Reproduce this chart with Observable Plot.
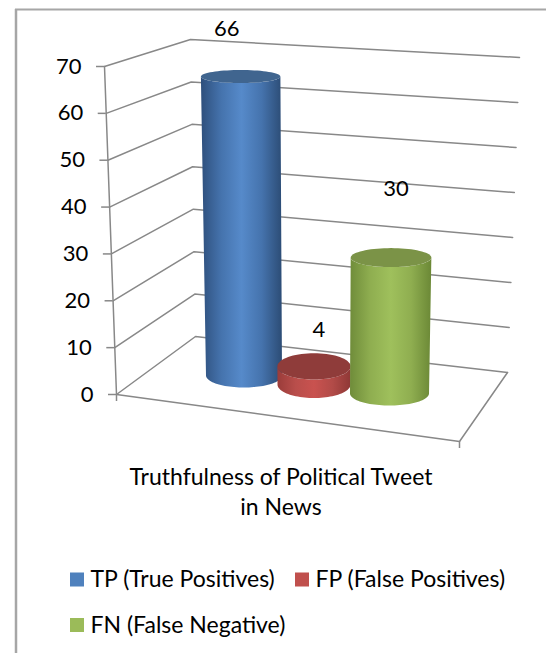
<!DOCTYPE html>
<html>
<head>
<meta charset="utf-8">
<script src="https://cdn.jsdelivr.net/npm/d3@7"></script>
<script src="https://cdn.jsdelivr.net/npm/@observablehq/plot@0.6"></script>
<style>
  html, body { margin: 0; background: #fff; overflow: hidden; }
  svg { display: block; }
</style>
</head>
<body>
<div id="chart"></div>
<script>
// Chart values
const categories = ["TP (True Positives)", "FP (False Positives)", "FN (False Negative)"];
const values = [66, 4, 30];
const tickValues = [0, 10, 20, 30, 40, 50, 60, 70];
const titleLines = ["Truthfulness of Political Tweet", "in News"];

// Series colours: gradient stops across each cylinder and the darker top cap
const shades = [
  ["#2e4f7c", "#4573ad", "#568aca", "#4573ad", "#2c4c75"],
  ["#9a3c3a", "#b94e4b", "#c9524f", "#b24b48", "#8f3836"],
  ["#6f8c3a", "#8fae50", "#9fc05c", "#8fae50", "#6b8836"]
];
const capColors = ["#40658f", "#8f3c3a", "#7b9347"];
const swatchColors = ["#4f81bd", "#c0504d", "#9bbb59"];

// Perspective frame of the 3D box: three vertical edges plus the near floor corner
const edge = (y0, y70, x0, x70) => ({
  x: d3.scaleLinear([0, 70], [x0, x70]),
  y: d3.scaleLinear([0, 70], [y0, y70])
});
const frontLeft = edge(394, 66, 116, 104);
const backLeft = edge(336, 39, 195, 190);
const backRight = edge(372, 57, 507, 519);
const nearCorner = {x: 459, y: 441};

// Cylinder placement on the floor, with perspective growth towards the viewer
const vanishingX = 316;
const placement = [
  {cx: 243.5, cy: 375, rx: 38, ry: 12, labelDx: -14, labelDy: -48},
  {cx: 313.5, cy: 384, rx: 36.5, ry: 13.5, labelDx: 5, labelDy: -36},
  {cx: 389, cy: 393, rx: 39.5, ry: 12, labelDx: 5, labelDy: -69}
];
const unitHeight = 4.53;
const ringAt = (p, v) => {
  const grow = 1 + 0.0007 * v;
  return {
    cx: vanishingX + (p.cx - vanishingX) * grow,
    cy: p.cy - unitHeight * v,
    rx: p.rx * grow,
    ry: p.ry - 0.083 * v
  };
};
const arc = (r, from, to, steps = 48) =>
  d3.range(steps + 1).map((i) => {
    const a = from + (to - from) * i / steps;
    return {x: r.cx + r.rx * Math.cos(a), y: r.cy + r.ry * Math.sin(a)};
  });

const bars = categories.map((name, i) => {
  const base = ringAt(placement[i], 0);
  const top = ringAt(placement[i], values[i]);
  return {
    name, i, value: values[i], top,
    side: [...arc(top, Math.PI, 0), ...arc(base, 0, Math.PI)],
    cap: arc(top, 0, 2 * Math.PI, 72),
    labelX: top.cx + placement[i].labelDx,
    labelY: top.cy + placement[i].labelDy
  };
});

// Wall and floor lines
const gridlines = tickValues.flatMap((v) => [
  {v, x: frontLeft.x(v), y: frontLeft.y(v)},
  {v, x: backLeft.x(v), y: backLeft.y(v)},
  {v, x: backRight.x(v), y: backRight.y(v)}
]);
const floorEdge = [
  {x: frontLeft.x(0), y: frontLeft.y(0)},
  nearCorner,
  {x: backRight.x(0), y: backRight.y(0)}
];
const axisEdge = [0, 70].map((v) => ({x: frontLeft.x(v), y: frontLeft.y(v)}));
const floorTicks = [{x: frontLeft.x(0), y: frontLeft.y(0)}, nearCorner];

// Legend rows
const legend = [
  {i: 0, x: 70, y: 579.5},
  {i: 1, x: 295, y: 579.5},
  {i: 2, x: 70, y: 625}
];

const svgNS = "http://www.w3.org/2000/svg";
const gradients = () => {
  const defs = document.createElementNS(svgNS, "defs");
  shades.forEach((stops, i) => {
    const g = document.createElementNS(svgNS, "linearGradient");
    g.setAttribute("id", `cyl${i}`);
    stops.forEach((c, k) => {
      const s = document.createElementNS(svgNS, "stop");
      s.setAttribute("offset", k / (stops.length - 1));
      s.setAttribute("stop-color", c);
      g.appendChild(s);
    });
    defs.appendChild(g);
  });
  return defs;
};

const ink = "#000";
const gridInk = "#888";
const digitFont = {fontSize: 22, fill: ink};
const labelFont = {fontSize: 23, fill: ink};

const chart = Plot.plot({
  width: 546,
  height: 653,
  margin: 0,
  style: {fontFamily: "Lato, 'Open Sans', sans-serif", background: "#fff"},
  x: {domain: [0, 546], range: [0, 546], axis: null},
  y: {domain: [0, 653], range: [0, 653], axis: null},
  marks: [
    gradients,
    // outer border of the chart area
    Plot.ruleX([15.5], {y1: 9, y2: 653, stroke: "#a6a6a6", strokeWidth: 2.5}),
    Plot.ruleY([9], {x1: 15, x2: 546, stroke: "#a6a6a6", strokeWidth: 2}),
    // back walls and floor
    Plot.line(gridlines, {x: "x", y: "y", z: "v", stroke: gridInk, strokeWidth: 1.5, curve: "linear"}),
    Plot.line(floorEdge, {x: "x", y: "y", stroke: gridInk, strokeWidth: 1.5}),
    Plot.line(axisEdge, {x: "x", y: "y", stroke: gridInk, strokeWidth: 1.5}),
    // value axis ticks and labels
    Plot.ruleY(tickValues, {
      x1: (v) => frontLeft.x(v) - 8, x2: (v) => frontLeft.x(v), y: (v) => frontLeft.y(v),
      stroke: gridInk, strokeWidth: 1.5
    }),
    Plot.ruleX(floorTicks, {x: "x", y1: "y", y2: (d) => d.y + 7, stroke: gridInk, strokeWidth: 1.5}),
    Plot.text(tickValues, {
      x: (v) => frontLeft.x(v) - 23, y: (v) => frontLeft.y(v),
      text: (v) => `${v}`, textAnchor: "end", ...digitFont
    }),
    // cylinders, back to front
    ...bars.flatMap((b) => [
      Plot.line(b.side, {x: "x", y: "y", fill: `url(#cyl${b.i})`, stroke: "none"}),
      Plot.line(b.cap, {x: "x", y: "y", fill: capColors[b.i], stroke: "none"})
    ]),
    // data labels
    Plot.text(bars, {x: "labelX", y: "labelY", text: (d) => `${d.value}`, ...digitFont}),
    // category title
    Plot.text(titleLines, {
      x: 280.5, y: (d, i) => 477 + i * 30, text: (d) => d, ...labelFont
    }),
    // legend
    Plot.rect(legend, {
      x1: (d) => d.x, x2: (d) => d.x + 14, y1: (d) => d.y - 7, y2: (d) => d.y + 7,
      fill: (d) => swatchColors[d.i]
    }),
    Plot.text(legend, {
      x: (d) => d.x + 20, y: "y", text: (d) => categories[d.i], textAnchor: "start", ...labelFont
    })
  ]
});
document.getElementById("chart").appendChild(chart);
</script>
</body>
</html>
